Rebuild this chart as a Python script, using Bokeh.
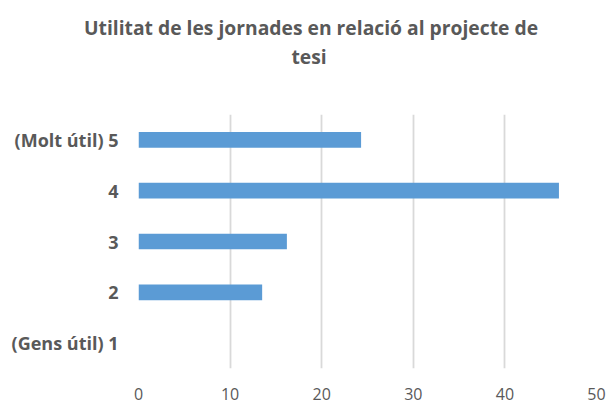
from bokeh.plotting import figure
from bokeh.models import Title, FactorRange, Range1d, FixedTicker
from bokeh.embed import file_html
from bokeh.resources import INLINE

categories = ["(Gens útil) 1", "2", "3", "4", "(Molt útil) 5"]
values = [0, 13.5, 16.2, 45.9, 24.3]
x_ticks = [0, 10, 20, 30, 40, 50]
title_lines = ["Utilitat de les jornades en relació al projecte de", "tesi"]

FONT = "Open Sans"
GRAY = "#595959"
TSIZE = "19.3px"

p = figure(width=609, height=403, output_backend="svg", toolbar_location=None,
           y_range=FactorRange(factors=categories, range_padding=0),
           x_range=Range1d(0, 50),
           min_border_left=138, min_border_right=13, min_border_bottom=35, min_border_top=114)
p.title = None

p.hbar(y=categories, right=values, left=0, height=0.31, fill_color="#5b9bd5", line_color=None)

spacer = Title(text=" ", text_font=FONT, text_font_size=TSIZE, standoff=15)
t2 = Title(text=title_lines[1], align="left", offset=153, standoff=1,
           text_font=FONT, text_font_size=TSIZE, text_font_style="bold", text_color=GRAY)
t1 = Title(text=title_lines[0], align="left", offset=-54.5, standoff=0,
           text_font=FONT, text_font_size=TSIZE, text_font_style="bold", text_color=GRAY)
p.add_layout(spacer, "above")
p.add_layout(t2, "above")
p.add_layout(t1, "above")

p.outline_line_color = None
p.ygrid.grid_line_color = None
p.xgrid.grid_line_color = "#d9d9d9"
p.xgrid.grid_line_width = 1.8
p.xaxis.ticker = FixedTicker(ticks=x_ticks)

for ax in (p.xaxis[0], p.yaxis[0]):
    ax.axis_line_color = None
    ax.major_tick_line_color = None
    ax.minor_tick_line_color = None
    ax.major_label_text_font = FONT
    ax.major_label_text_color = GRAY

p.xaxis.major_label_text_font_size = "16px"
p.xaxis.major_label_standoff = 13
p.yaxis.major_label_text_font_size = "18px"
p.yaxis.major_label_text_font_style = "bold"
p.yaxis.major_label_standoff = 14

open("out.html", "w").write(file_html(p, INLINE))
